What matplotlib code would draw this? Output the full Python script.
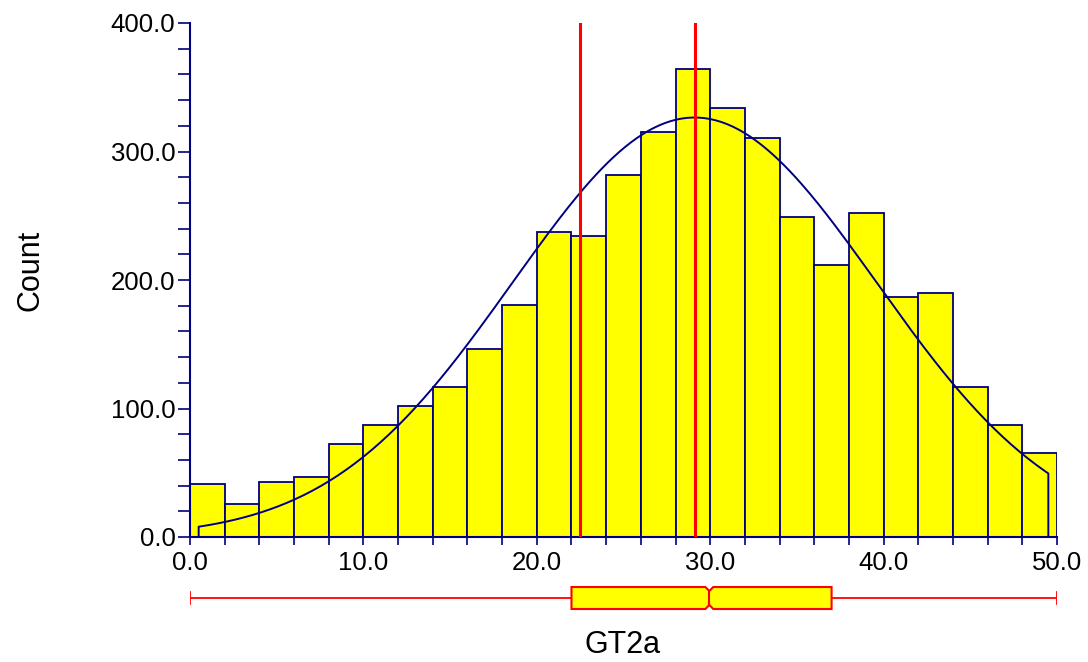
import numpy as np
import matplotlib
matplotlib.use("Agg")
import matplotlib.pyplot as plt
from matplotlib.patches import Polygon

plt.rcParams['font.family'] = ['Liberation Sans', 'DejaVu Sans']

# histogram data (bins of width 2 from 0 to 50)
bin_edges = [0, 2, 4, 6, 8, 10, 12, 14, 16, 18, 20, 22, 24, 26, 28, 30,
             32, 34, 36, 38, 40, 42, 44, 46, 48, 50]
counts = [41, 26, 43, 46.5, 72.5, 87, 102, 117, 146, 180.5, 237, 234, 282,
          315, 364, 333.5, 310.5, 249, 212, 252, 187, 189.5, 116.5, 87, 65.5]

# fitted normal curve parameters
fit_mean = 29.1
fit_sd = 10.5
curve_start = 0.5
curve_end = 49.5

# reference lines
ref_lines = [22.5, 29.1]

# box plot summary
box_min = 0.0
box_q1 = 22.0
box_median = 29.95
box_q3 = 37.0
box_max = 50.0
notch_half = 0.23

navy = '#000080'
yellow = '#ffff00'
red = '#ff0000'

fig = plt.figure(figsize=(10.88, 6.62), dpi=100)
ax = fig.add_axes([190 / 1088, 125 / 662, 867 / 1088, 514 / 662])

widths = np.diff(bin_edges)
ax.bar(bin_edges[:-1], counts, width=widths, align='edge', color=yellow,
       edgecolor=navy, linewidth=1.3, zorder=2)

# normal curve scaled to counts
n_total = sum(counts)
bw = widths[0]
xs = np.linspace(curve_start, curve_end, 300)
ys = n_total * bw / (fit_sd * np.sqrt(2 * np.pi)) * np.exp(-(xs - fit_mean) ** 2 / (2 * fit_sd ** 2))
xs = np.concatenate([[curve_start], xs, [curve_end]])
ys = np.concatenate([[0], ys, [0]])
ax.plot(xs, ys, color=navy, linewidth=1.4, zorder=3)

for v in ref_lines:
    ax.plot([v, v], [0, 400], color=red, linewidth=2.2, zorder=4)

ax.set_xlim(0, 50)
ax.set_ylim(0, 400)
ax.spines['top'].set_visible(False)
ax.spines['right'].set_visible(False)
for s in ['left', 'bottom']:
    ax.spines[s].set_color(navy)
    ax.spines[s].set_linewidth(1.5)

ax.set_xticks([0, 10, 20, 30, 40, 50])
ax.set_xticks(bin_edges, minor=True)
ax.set_xticklabels(['%.1f' % t for t in [0, 10, 20, 30, 40, 50]])
ax.set_yticks([0, 100, 200, 300, 400])
ax.set_yticks(np.arange(0, 401, 20), minor=True)
ax.set_yticklabels(['%.1f' % t for t in [0, 100, 200, 300, 400]])
ax.tick_params(axis='x', which='both', length=6, width=1.2, color=navy,
               labelsize=18.5, pad=4)
ax.tick_params(axis='y', which='both', length=8.5, width=1.2, color=navy,
               labelsize=18.5, pad=2)

fig.text(30 / 1088, 1 - 270 / 662, 'Count', rotation=90, ha='center',
         va='center', fontsize=22)
fig.text(623 / 1088, 1 - 645 / 662, 'GT2a', ha='center', va='center',
         fontsize=22)

# notched box plot below the histogram
bx = fig.add_axes([190 / 1088, 44 / 662, 867 / 1088, 40 / 662])
bx.set_xlim(0, 50)
bx.set_ylim(0, 1)
bx.axis('off')
yc = 0.5
hh = 0.275
nd = 0.1
bx.plot([box_min, box_q1], [yc, yc], color=red, linewidth=1.3, zorder=1)
bx.plot([box_q3, box_max], [yc, yc], color=red, linewidth=1.3, zorder=1)
for v in [box_min, box_max]:
    bx.plot([v, v], [yc - 0.15, yc + 0.15], color=red, linewidth=1.3)
shape = [
    (box_q1, yc - hh), (box_median - notch_half, yc - hh), (box_median, yc - hh + nd),
    (box_median + notch_half, yc - hh), (box_q3, yc - hh), (box_q3, yc + hh),
    (box_median + notch_half, yc + hh), (box_median, yc + hh - nd),
    (box_median - notch_half, yc + hh), (box_q1, yc + hh),
]
bx.add_patch(Polygon(shape, closed=True, facecolor=yellow, edgecolor=red,
                     linewidth=1.5, zorder=2))
bx.plot([box_median, box_median], [yc - hh + nd, yc + hh - nd], color=red,
        linewidth=1.5, zorder=3)

fig.savefig('out.png', dpi=100)
